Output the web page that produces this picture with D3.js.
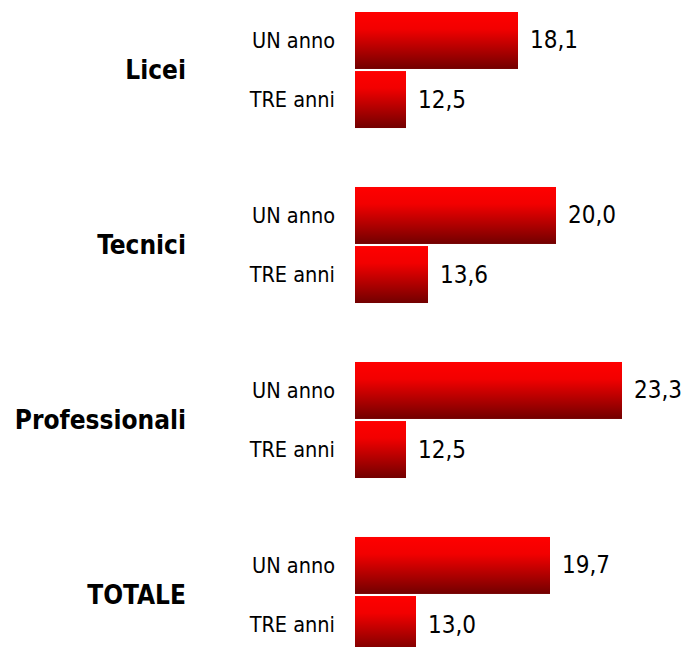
<!DOCTYPE html>
<html><head><meta charset="utf-8">
<script src="https://cdn.jsdelivr.net/npm/d3@7/dist/d3.min.js"></script>
<style>body{margin:0;background:#fff}svg{display:block}</style>
</head><body><div id="chart"></div>
<script>
const categories = ["Licei", "Tecnici", "Professionali", "TOTALE"];
const periods = ["UN anno", "TRE anni"];
const unAnno = [18.1, 20.0, 23.3, 19.7];
const treAnni = [12.5, 13.6, 12.5, 13.0];

const W = 688, H = 647;
const svg = d3.select("#chart").append("svg").attr("width", W).attr("height", H);

const defs = svg.append("defs");
const grad = defs.append("linearGradient").attr("id", "g").attr("x1", 0).attr("y1", 0).attr("x2", 0).attr("y2", 1);
grad.append("stop").attr("offset", "0").attr("stop-color", "#ff0000");
grad.append("stop").attr("offset", "0.3").attr("stop-color", "#f20000");
grad.append("stop").attr("offset", "1").attr("stop-color", "#720000");

const x = d3.scaleLinear().domain([9.95, 24.95]).range([355, 655]);
const y0 = d3.scaleBand().domain(categories).range([12, 653]).paddingInner(0.337).paddingOuter(0);
const y1 = d3.scaleBand().domain(periods).range([0, y0.bandwidth()]).paddingInner(0.035);

const fmt = v => d3.format(".1f")(v).replace(".", ",");
const font = "'DejaVu Sans Condensed', 'DejaVu Sans', sans-serif";

categories.forEach((c, i) => {
  const g = svg.append("g").attr("transform", `translate(0,${y0(c)})`);
  const vals = [unAnno[i], treAnni[i]];
  g.append("text").attr("x", 186).attr("y", y0.bandwidth() / 2)
    .attr("text-anchor", "end").attr("dominant-baseline", "central")
    .attr("font-family", font).attr("font-weight", "bold").attr("font-size", 26)
    .attr("fill", "#000").text(c);
  periods.forEach((p, j) => {
    const yy = y1(p);
    g.append("text").attr("x", 335).attr("y", yy + y1.bandwidth() / 2)
      .attr("text-anchor", "end").attr("dominant-baseline", "central")
      .attr("font-family", font).attr("font-size", 21.5)
      .attr("fill", "#000").text(p);
    g.append("rect").attr("x", x.range()[0]).attr("y", yy)
      .attr("width", x(vals[j]) - x.range()[0]).attr("height", y1.bandwidth())
      .attr("fill", "url(#g)");
    g.append("text").attr("x", x(vals[j]) + 12).attr("y", yy + y1.bandwidth() / 2)
      .attr("text-anchor", "start").attr("dominant-baseline", "central")
      .attr("font-family", font).attr("font-size", 24)
      .attr("fill", "#000").text(fmt(vals[j]));
  });
});
</script></body></html>
